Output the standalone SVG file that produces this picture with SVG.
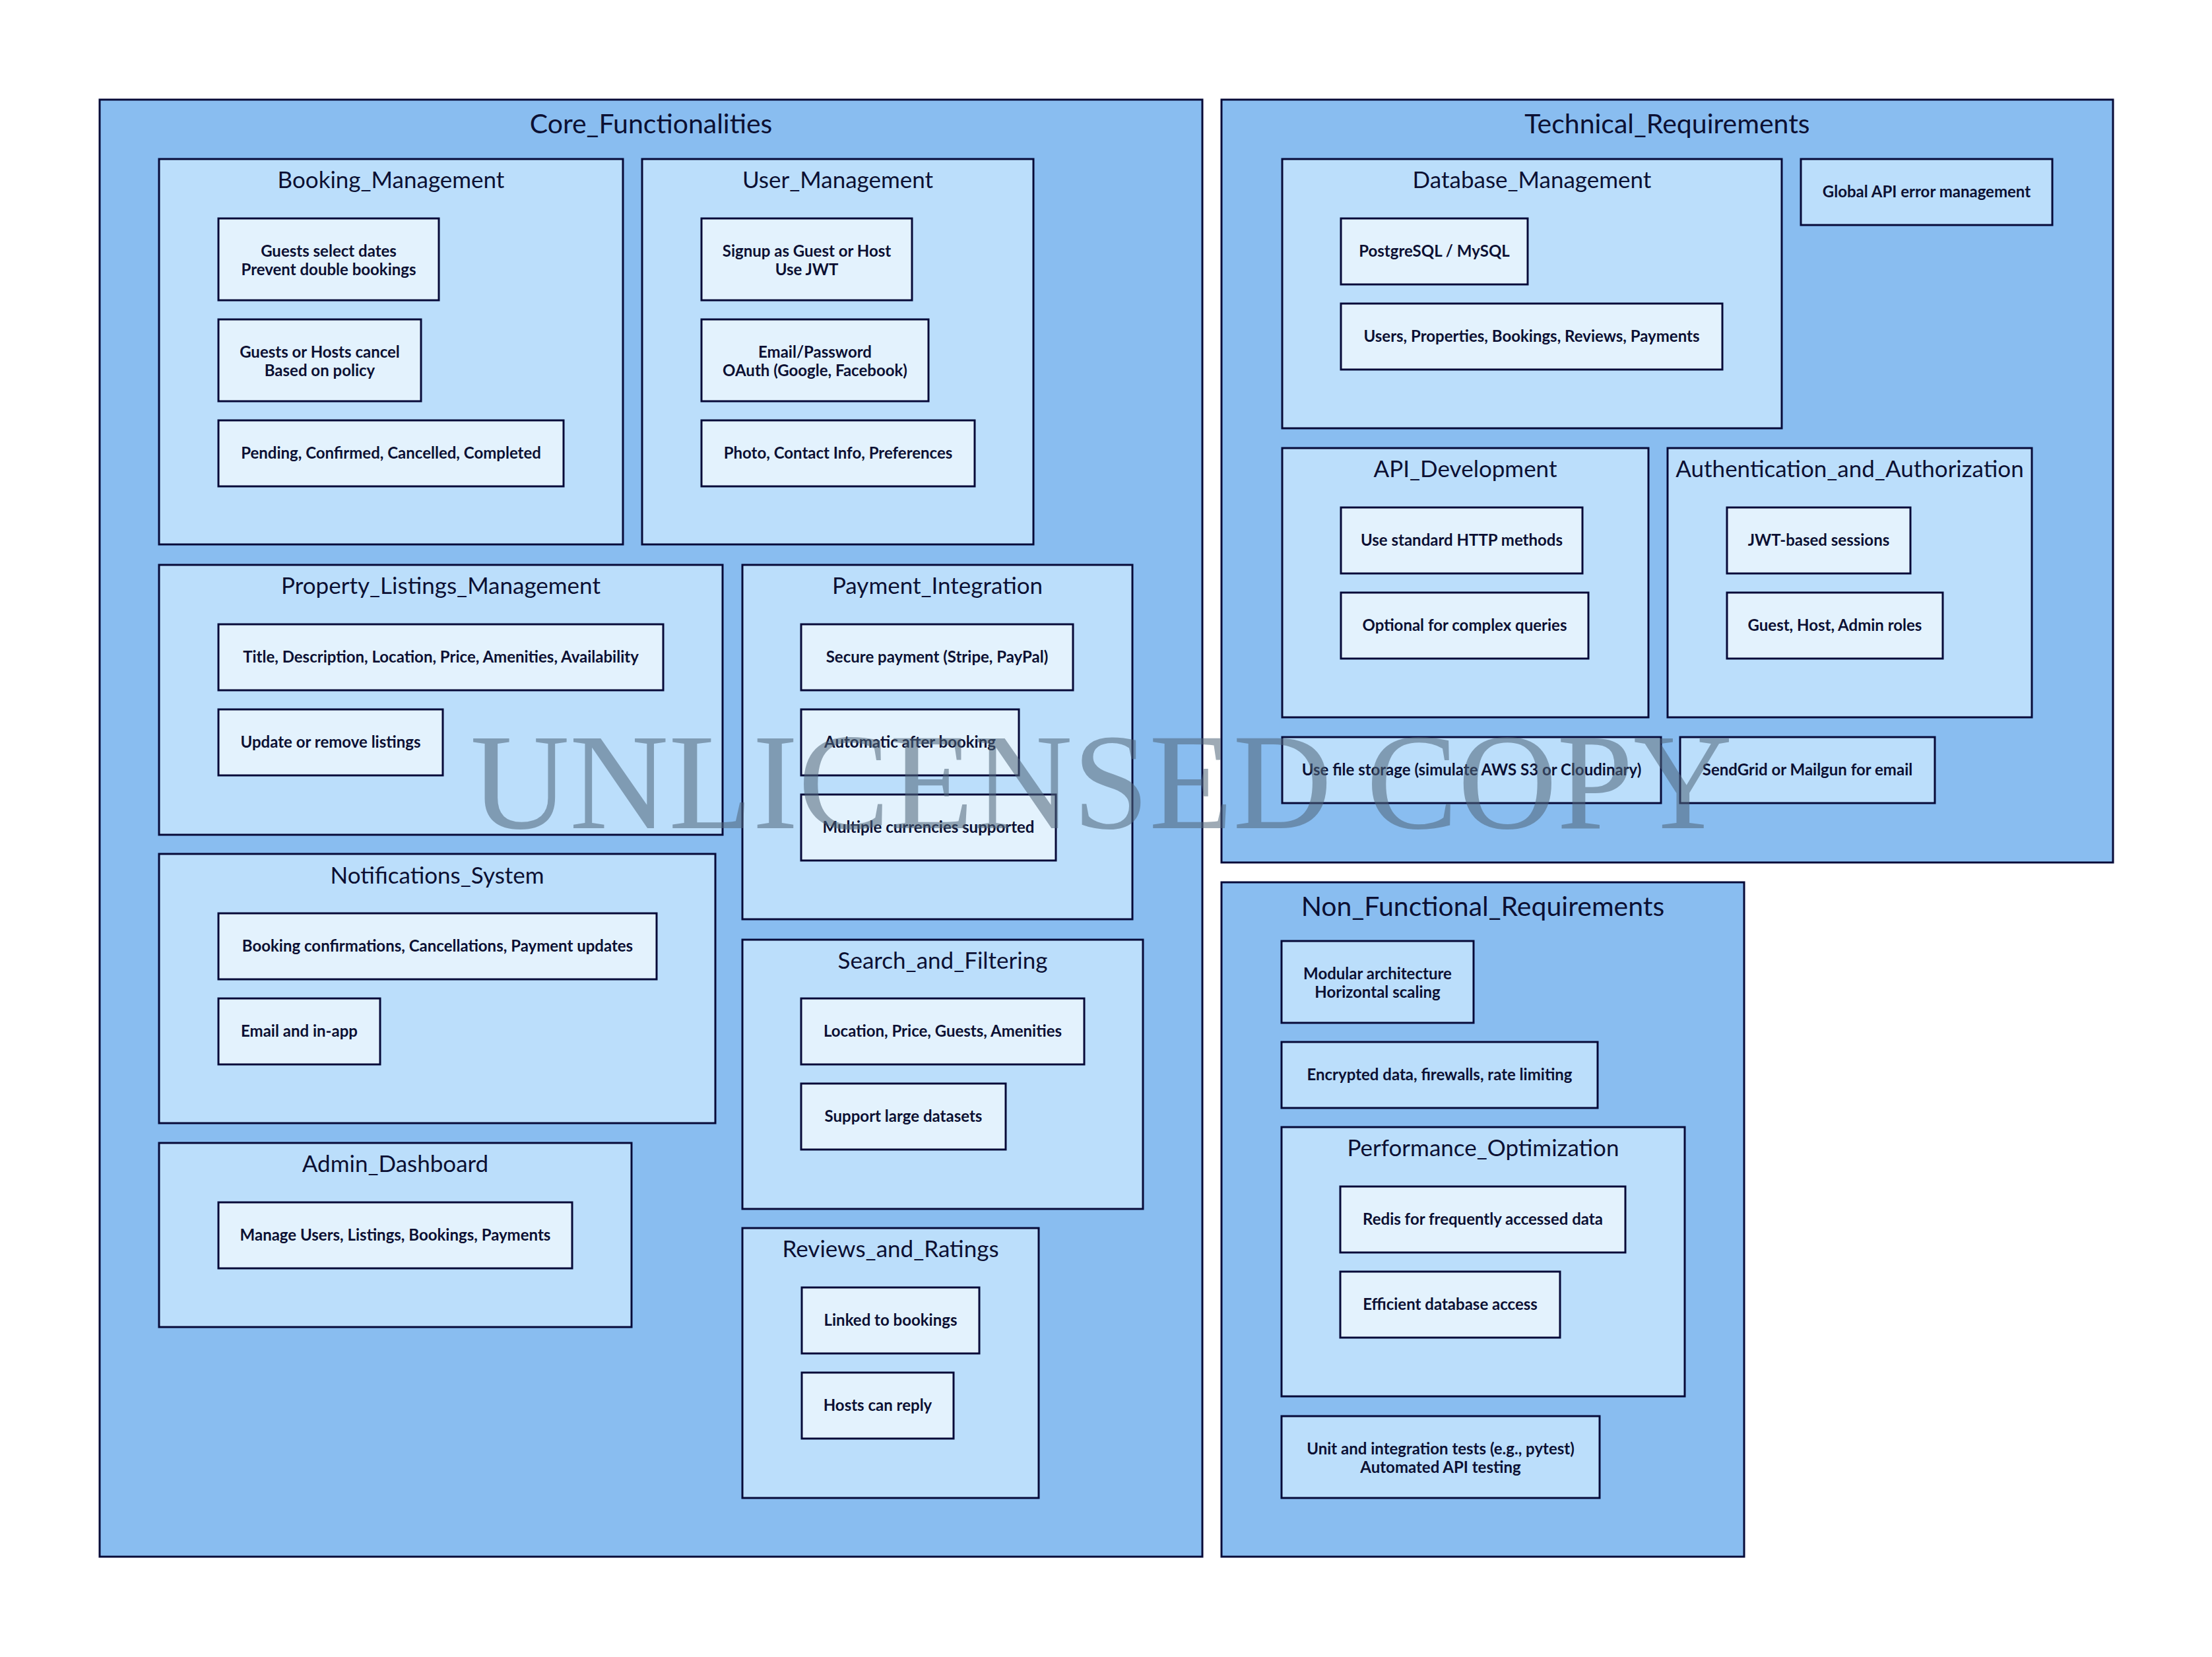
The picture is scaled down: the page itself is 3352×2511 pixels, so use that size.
<svg xmlns="http://www.w3.org/2000/svg" width="3352" height="2511" viewBox="0 0 3352 2511">
<defs>
<style>
.top{fill:#89BDF0;stroke:#070A38;stroke-width:3}
.mid{fill:#BBDEFB;stroke:#070A38;stroke-width:3}
.leaf{fill:#E3F2FD;stroke:#070A38;stroke-width:3}
.t1{font-family:Lato,"Liberation Sans",sans-serif;font-size:41px;fill:#0C1033;text-anchor:middle}
.t2{font-family:Lato,"Liberation Sans",sans-serif;font-size:35px;fill:#0C1033;text-anchor:middle}
.lb{font-family:Lato,"Liberation Sans",sans-serif;font-size:24px;font-weight:700;fill:#0C1033;text-anchor:middle}
.wm{font-family:"Liberation Serif","Times New Roman",serif;font-size:208px;fill:#4F6478;fill-opacity:0.55;text-anchor:middle}
</style>
</defs>
<rect width="3352" height="2511" fill="#FFFFFF"/>
<g id="connectors"></g>

<g id="Core_Functionalities">
<rect class="top" x="151" y="151" width="1671" height="2208"/>
<text class="t1" x="986.5" y="202">Core_Functionalities</text>
</g>

<g id="Booking_Management">
<rect class="mid" x="241" y="241" width="703" height="584"/>
<text class="t2" x="592.5" y="285">Booking_Management</text>
</g>
<g id="booking_dates">
<rect class="leaf" x="331" y="331" width="334" height="124"/>
<text class="lb" x="498" y="389">Guests select dates</text>
<text class="lb" x="498" y="417">Prevent double bookings</text>
</g>
<g id="booking_cancel">
<rect class="leaf" x="331" y="484" width="307" height="124"/>
<text class="lb" x="484.5" y="542">Guests or Hosts cancel</text>
<text class="lb" x="484.5" y="570">Based on policy</text>
</g>
<g id="booking_status">
<rect class="leaf" x="331" y="637" width="523" height="100"/>
<text class="lb" x="592.5" y="695">Pending, Confirmed, Cancelled, Completed</text>
</g>

<g id="User_Management">
<rect class="mid" x="973" y="241" width="593" height="584"/>
<text class="t2" x="1269.5" y="285">User_Management</text>
</g>
<g id="user_signup">
<rect class="leaf" x="1063" y="331" width="319" height="124"/>
<text class="lb" x="1222.5" y="389">Signup as Guest or Host</text>
<text class="lb" x="1222.5" y="417">Use JWT</text>
</g>
<g id="user_auth">
<rect class="leaf" x="1063" y="484" width="344" height="124"/>
<text class="lb" x="1235" y="542">Email/Password</text>
<text class="lb" x="1235" y="570">OAuth (Google, Facebook)</text>
</g>
<g id="user_profile">
<rect class="leaf" x="1063" y="637" width="414" height="100"/>
<text class="lb" x="1270" y="695">Photo, Contact Info, Preferences</text>
</g>

<g id="Property_Listings_Management">
<rect class="mid" x="241" y="856" width="854" height="409"/>
<text class="t2" x="668" y="900">Property_Listings_Management</text>
</g>
<g id="property_fields">
<rect class="leaf" x="331" y="946" width="674" height="100"/>
<text class="lb" x="668" y="1004">Title, Description, Location, Price, Amenities, Availability</text>
</g>
<g id="property_update">
<rect class="leaf" x="331" y="1075" width="340" height="100"/>
<text class="lb" x="501" y="1133">Update or remove listings</text>
</g>

<g id="Payment_Integration">
<rect class="mid" x="1125" y="856" width="591" height="537"/>
<text class="t2" x="1420.5" y="900">Payment_Integration</text>
</g>
<g id="payment_secure">
<rect class="leaf" x="1214" y="946" width="412" height="100"/>
<text class="lb" x="1420" y="1004">Secure payment (Stripe, PayPal)</text>
</g>
<g id="payment_auto">
<rect class="leaf" x="1214" y="1075" width="330" height="100"/>
<text class="lb" x="1379" y="1133">Automatic after booking</text>
</g>
<g id="payment_currency">
<rect class="leaf" x="1214" y="1204" width="386" height="100"/>
<text class="lb" x="1407" y="1262">Multiple currencies supported</text>
</g>

<g id="Notifications_System">
<rect class="mid" x="241" y="1294" width="843" height="408"/>
<text class="t2" x="662.5" y="1339">Notifications_System</text>
</g>
<g id="notif_types">
<rect class="leaf" x="331" y="1384" width="664" height="100"/>
<text class="lb" x="663" y="1442">Booking confirmations, Cancellations, Payment updates</text>
</g>
<g id="notif_channels">
<rect class="leaf" x="331" y="1513" width="245" height="100"/>
<text class="lb" x="453.5" y="1571">Email and in-app</text>
</g>

<g id="Search_and_Filtering">
<rect class="mid" x="1125" y="1424" width="607" height="408"/>
<text class="t2" x="1428.5" y="1468">Search_and_Filtering</text>
</g>
<g id="search_filters">
<rect class="leaf" x="1214" y="1513" width="429" height="100"/>
<text class="lb" x="1428.5" y="1571">Location, Price, Guests, Amenities</text>
</g>
<g id="search_large">
<rect class="leaf" x="1214" y="1642" width="310" height="100"/>
<text class="lb" x="1369" y="1700">Support large datasets</text>
</g>

<g id="Admin_Dashboard">
<rect class="mid" x="241" y="1732" width="716" height="279"/>
<text class="t2" x="599" y="1776">Admin_Dashboard</text>
</g>
<g id="admin_manage">
<rect class="leaf" x="331" y="1822" width="536" height="100"/>
<text class="lb" x="599" y="1880">Manage Users, Listings, Bookings, Payments</text>
</g>

<g id="Reviews_and_Ratings">
<rect class="mid" x="1125" y="1861" width="449" height="409"/>
<text class="t2" x="1349.5" y="1905">Reviews_and_Ratings</text>
</g>
<g id="reviews_linked">
<rect class="leaf" x="1215" y="1951" width="269" height="100"/>
<text class="lb" x="1349.5" y="2009">Linked to bookings</text>
</g>
<g id="reviews_reply">
<rect class="leaf" x="1215" y="2080" width="230" height="100"/>
<text class="lb" x="1330" y="2138">Hosts can reply</text>
</g>

<g id="Technical_Requirements">
<rect class="top" x="1851" y="151" width="1351" height="1156"/>
<text class="t1" x="2526.5" y="202">Technical_Requirements</text>
</g>
<g id="Database_Management">
<rect class="mid" x="1943" y="241" width="757" height="408"/>
<text class="t2" x="2321.5" y="285">Database_Management</text>
</g>
<g id="db_engine">
<rect class="leaf" x="2032" y="331" width="283" height="100"/>
<text class="lb" x="2173.5" y="389">PostgreSQL / MySQL</text>
</g>
<g id="db_tables">
<rect class="leaf" x="2032" y="460" width="578" height="100"/>
<text class="lb" x="2321" y="518">Users, Properties, Bookings, Reviews, Payments</text>
</g>
<g id="error_handling">
<rect class="mid" x="2729" y="241" width="381" height="100"/>
<text class="lb" x="2919.5" y="299">Global API error management</text>
</g>
<g id="API_Development">
<rect class="mid" x="1943" y="679" width="555" height="408"/>
<text class="t2" x="2220.5" y="723">API_Development</text>
</g>
<g id="api_rest">
<rect class="leaf" x="2032" y="769" width="366" height="100"/>
<text class="lb" x="2215" y="827">Use standard HTTP methods</text>
</g>
<g id="api_graphql">
<rect class="leaf" x="2032" y="898" width="375" height="100"/>
<text class="lb" x="2219.5" y="956">Optional for complex queries</text>
</g>
<g id="Authentication_and_Authorization">
<rect class="mid" x="2527" y="679" width="552" height="408"/>
<text class="t2" x="2803" y="723">Authentication_and_Authorization</text>
</g>
<g id="auth_jwt">
<rect class="leaf" x="2617" y="769" width="278" height="100"/>
<text class="lb" x="2756" y="827">JWT-based sessions</text>
</g>
<g id="auth_roles">
<rect class="leaf" x="2617" y="898" width="327" height="100"/>
<text class="lb" x="2780.5" y="956">Guest, Host, Admin roles</text>
</g>
<g id="file_storage">
<rect class="mid" x="1943" y="1117" width="574" height="100"/>
<text class="lb" x="2230" y="1175">Use file storage (simulate AWS S3 or Cloudinary)</text>
</g>
<g id="email_service">
<rect class="mid" x="2546" y="1117" width="386" height="100"/>
<text class="lb" x="2739" y="1175">SendGrid or Mailgun for email</text>
</g>

<g id="Non_Functional_Requirements">
<rect class="top" x="1851" y="1337" width="792" height="1022"/>
<text class="t1" x="2247" y="1388">Non_Functional_Requirements</text>
</g>
<g id="scalability">
<rect class="mid" x="1942" y="1426" width="291" height="124"/>
<text class="lb" x="2087.5" y="1484">Modular architecture</text>
<text class="lb" x="2087.5" y="1512">Horizontal scaling</text>
</g>
<g id="security">
<rect class="mid" x="1942" y="1579" width="479" height="100"/>
<text class="lb" x="2181.5" y="1637">Encrypted data, firewalls, rate limiting</text>
</g>
<g id="Performance_Optimization">
<rect class="mid" x="1942" y="1708" width="611" height="408"/>
<text class="t2" x="2247.5" y="1752">Performance_Optimization</text>
</g>
<g id="perf_cache">
<rect class="leaf" x="2031" y="1798" width="432" height="100"/>
<text class="lb" x="2247" y="1856">Redis for frequently accessed data</text>
</g>
<g id="perf_db">
<rect class="leaf" x="2031" y="1927" width="333" height="100"/>
<text class="lb" x="2197.5" y="1985">Efficient database access</text>
</g>
<g id="testing">
<rect class="mid" x="1942" y="2146" width="482" height="124"/>
<text class="lb" x="2183" y="2204">Unit and integration tests (e.g., pytest)</text>
<text class="lb" x="2183" y="2232">Automated API testing</text>
</g>

<text class="wm" x="1669" y="1255">UNLICENSED COPY</text>
</svg>
